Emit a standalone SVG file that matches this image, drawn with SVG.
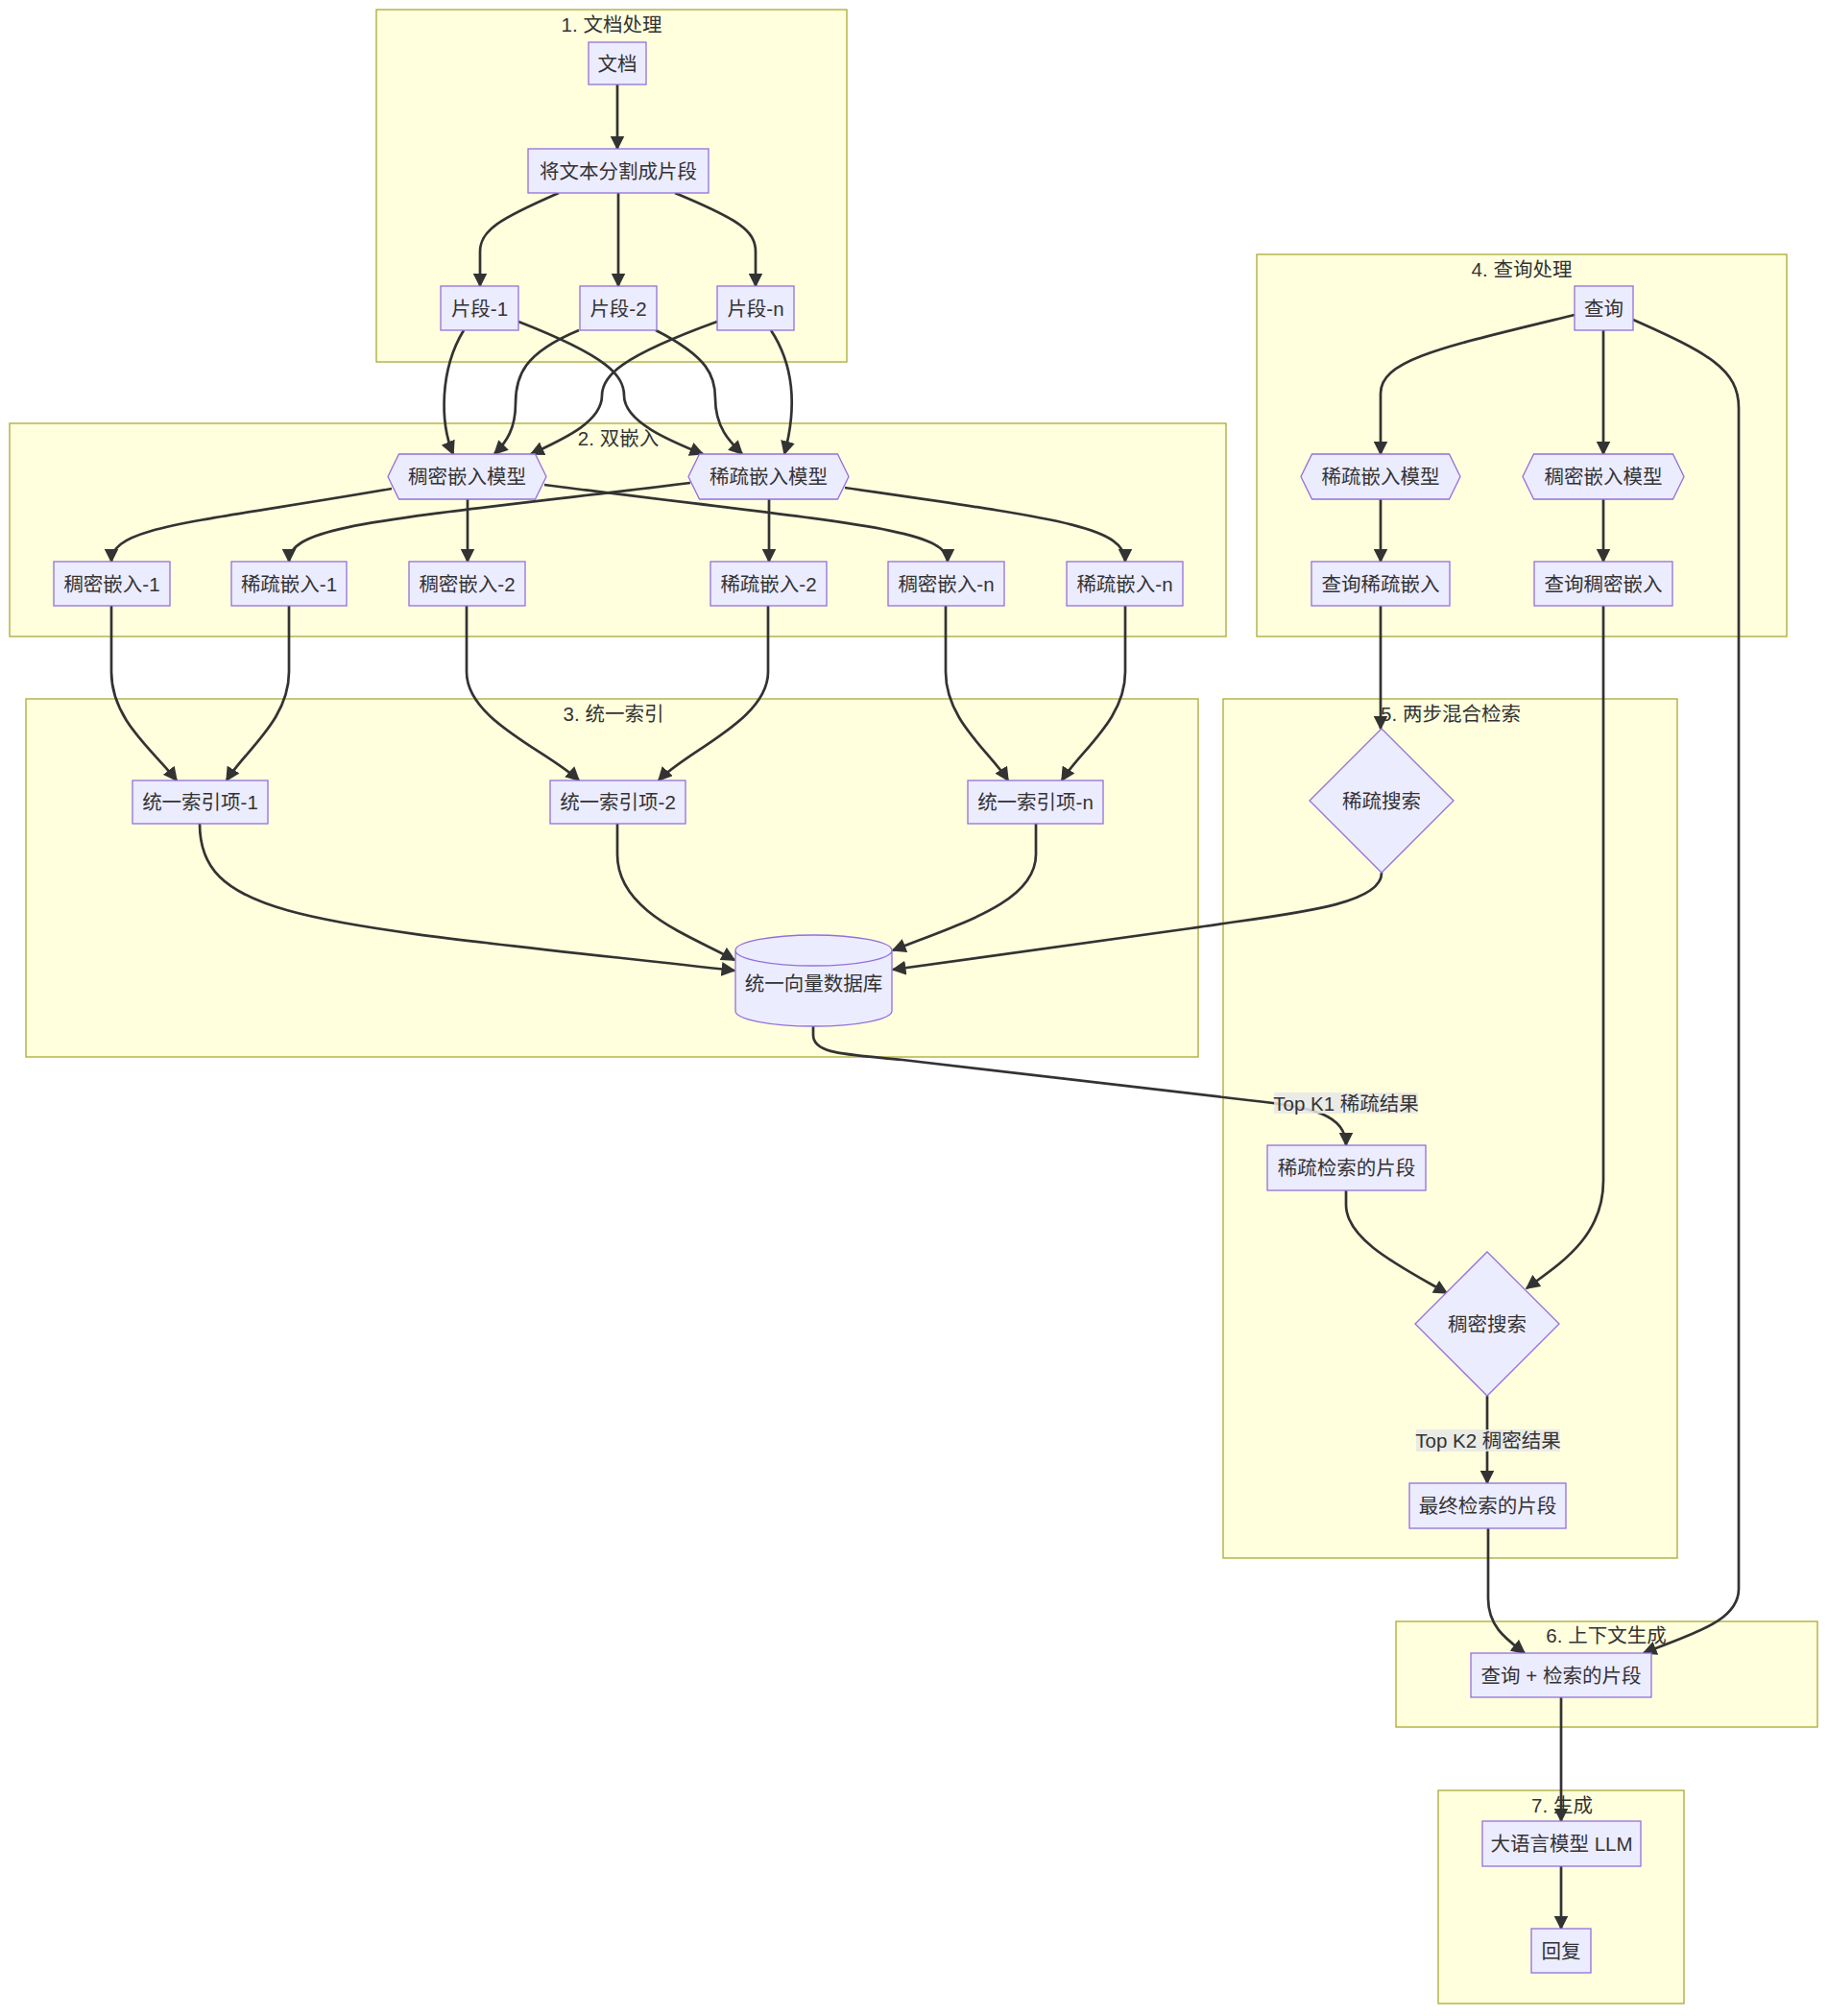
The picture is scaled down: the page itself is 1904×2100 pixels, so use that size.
<svg xmlns="http://www.w3.org/2000/svg" width="1904" height="2100" viewBox="0 0 1904 2100">
<style>
.cl{fill:#ffffde;stroke:#aaaa33;stroke-width:1.3}
.nd{fill:#ececff;stroke:#9370db;stroke-width:1.3}
.t{font-family:"Liberation Sans","Noto Sans CJK SC",sans-serif;font-size:20.5px;fill:#333;text-anchor:middle;dominant-baseline:central}
.e{fill:none;stroke:#333;stroke-width:2.7;marker-end:url(#arr)}
.lb{fill:#e8e8e8;fill-opacity:0.85}
</style>
<defs>
<marker id="arr" viewBox="0 0 10 10" refX="9" refY="5" markerUnits="userSpaceOnUse" markerWidth="15" markerHeight="15" orient="auto">
<path d="M0,0 L10,5 L0,10 z" fill="#333"/>
</marker>
</defs>
<rect width="1904" height="2100" fill="#ffffff"/>
<g id="clusters">
<g id="c1"><rect class="cl" x="392" y="10" width="490" height="367"/><text class="t" x="637" y="25">1. 文档处理</text></g>
<g id="c2"><rect class="cl" x="10" y="441" width="1267" height="222"/><text class="t" x="644" y="456">2. 双嵌入</text></g>
<g id="c3"><rect class="cl" x="27" y="728" width="1221" height="373"/><text class="t" x="639" y="743">3. 统一索引</text></g>
<g id="c4"><rect class="cl" x="1309" y="265" width="552" height="398"/><text class="t" x="1585" y="280">4. 查询处理</text></g>
<g id="c5"><rect class="cl" x="1274" y="728" width="473" height="895"/><text class="t" x="1511" y="743">5. 两步混合检索</text></g>
<g id="c6"><rect class="cl" x="1454" y="1689" width="439" height="110"/><text class="t" x="1673" y="1703">6. 上下文生成</text></g>
<g id="c7"><rect class="cl" x="1498" y="1865" width="256" height="222"/><text class="t" x="1627" y="1880">7. 生成</text></g>
</g>
<g id="edges">
<path class="e" d="M643,88 L643,155"/>
<path class="e" d="M582,201 C520,228 500,240 500,262 L500,298"/>
<path class="e" d="M644,201 L644,298"/>
<path class="e" d="M703,201 C768,228 787,240 787,262 L787,298"/>
<path class="e" d="M483,344 C458,385 458,440 472,473"/>
<path class="e" d="M603,344 C545,368 537,392 537,420 C537,446 528,460 515,473"/>
<path class="e" d="M747,335 C645,372 627,392 627,412 C627,440 585,458 553,473"/>
<path class="e" d="M540,335 C635,372 650,392 650,412 C650,440 700,460 732,473"/>
<path class="e" d="M683,344 C738,372 745,392 745,415 C745,445 760,460 773,473"/>
<path class="e" d="M803,344 C828,382 830,425 817,473"/>
<path class="e" d="M408,509 C200,545 116,548 116,585"/>
<path class="e" d="M719,503 C400,542 301,546 301,585"/>
<path class="e" d="M487,520 L487,585"/>
<path class="e" d="M567,505 C880,545 987,550 987,585"/>
<path class="e" d="M801,520 L801,585"/>
<path class="e" d="M880,508 C1100,540 1172,548 1172,585"/>
<path class="e" d="M116,631 L116,700 C116,750 160,782 184,813"/>
<path class="e" d="M301,631 L301,700 C301,750 255,782 236,813"/>
<path class="e" d="M486,631 L486,700 C486,750 570,782 603,813"/>
<path class="e" d="M800,631 L800,700 C800,750 715,782 686,813"/>
<path class="e" d="M985,631 L985,700 C985,750 1030,782 1050,813"/>
<path class="e" d="M1172,631 L1172,700 C1172,750 1125,782 1106,813"/>
<path class="e" d="M208,858 C208,960 330,962 765,1011"/>
<path class="e" d="M643,858 L643,890 C643,950 720,975 765,1000"/>
<path class="e" d="M1079,858 L1079,890 C1079,940 1000,962 930,990"/>
<path class="e" d="M1439,909 C1440,945 1330,953 1240,967 L930,1010"/>
<path class="e" d="M1640,328 C1500,362 1438,375 1438,410 L1438,473"/>
<path class="e" d="M1670,344 L1670,473"/>
<path class="e" d="M1701,333 C1780,368 1811,385 1811,425 L1811,1655 C1811,1690 1760,1702 1712,1722"/>
<path class="e" d="M1438,520 L1438,585"/>
<path class="e" d="M1670,520 L1670,585"/>
<path class="e" d="M1438,631 L1438,759"/>
<path class="e" d="M1670,631 L1670,1230 C1670,1290 1622,1318 1590,1342"/>
<path class="e" d="M847,1069 L847,1078 C847,1098 880,1098 940,1104 L1300,1146 C1370,1153 1402,1162 1402,1193"/>
<path class="e" d="M1402,1240 L1402,1255 C1402,1292 1460,1320 1507,1347"/>
<path class="e" d="M1549,1454 L1549,1545"/>
<path class="e" d="M1550,1592 L1550,1665 C1550,1695 1570,1708 1588,1722"/>
<path class="e" d="M1626,1768 L1626,1897"/>
<path class="e" d="M1626,1944 L1626,2009"/>
</g>
<g id="edge-labels">
<g id="l1"><rect class="lb" x="1327" y="1138" width="150" height="22"/><text class="t" x="1402" y="1149">Top K1 稀疏结果</text></g>
<g id="l2"><rect class="lb" x="1475" y="1489" width="150" height="23"/><text class="t" x="1550" y="1500">Top K2 稠密结果</text></g>
</g>
<g id="n-doc"><rect class="nd" x="613" y="44" width="60" height="44"/><text class="t" x="643" y="66">文档</text></g>
<g id="n-split"><rect class="nd" x="550" y="155" width="188" height="46"/><text class="t" x="644" y="178">将文本分割成片段</text></g>
<g id="n-chunk1"><rect class="nd" x="459" y="298" width="81" height="46"/><text class="t" x="499.5" y="321">片段-1</text></g>
<g id="n-chunk2"><rect class="nd" x="604" y="298" width="80" height="46"/><text class="t" x="644" y="321">片段-2</text></g>
<g id="n-chunkn"><rect class="nd" x="747" y="298" width="80" height="46"/><text class="t" x="787" y="321">片段-n</text></g>
<g id="n-denseModel"><polygon class="nd" points="415.5,473 557.5,473 569,496.5 557.5,520 415.5,520 404,496.5"/><text class="t" x="486.5" y="496.5">稠密嵌入模型</text></g>
<g id="n-sparseModel"><polygon class="nd" points="728.5,473 872.5,473 884,496.5 872.5,520 728.5,520 717,496.5"/><text class="t" x="800.5" y="496.5">稀疏嵌入模型</text></g>
<g id="n-dense1"><rect class="nd" x="56" y="585" width="121" height="46"/><text class="t" x="116.5" y="608">稠密嵌入-1</text></g>
<g id="n-sparse1"><rect class="nd" x="241" y="585" width="120" height="46"/><text class="t" x="301" y="608">稀疏嵌入-1</text></g>
<g id="n-dense2"><rect class="nd" x="426" y="585" width="121" height="46"/><text class="t" x="486.5" y="608">稠密嵌入-2</text></g>
<g id="n-sparse2"><rect class="nd" x="740" y="585" width="121" height="46"/><text class="t" x="800.5" y="608">稀疏嵌入-2</text></g>
<g id="n-densen"><rect class="nd" x="925" y="585" width="121" height="46"/><text class="t" x="985.5" y="608">稠密嵌入-n</text></g>
<g id="n-sparsen"><rect class="nd" x="1111" y="585" width="121" height="46"/><text class="t" x="1171.5" y="608">稀疏嵌入-n</text></g>
<g id="n-idx1"><rect class="nd" x="138" y="813" width="141" height="45"/><text class="t" x="208.5" y="835.5">统一索引项-1</text></g>
<g id="n-idx2"><rect class="nd" x="573" y="813" width="141" height="45"/><text class="t" x="643.5" y="835.5">统一索引项-2</text></g>
<g id="n-idxn"><rect class="nd" x="1008" y="813" width="141" height="45"/><text class="t" x="1078.5" y="835.5">统一索引项-n</text></g>
<g id="n-db"><path class="nd" d="M766,990 a81.5,16 0 0,0 163,0 a81.5,16 0 0,0 -163,0 l0,63 a81.5,16 0 0,0 163,0 l0,-63"/><text class="t" x="847.5" y="1024">统一向量数据库</text></g>
<g id="n-query"><rect class="nd" x="1640" y="298" width="61" height="46"/><text class="t" x="1670.5" y="321">查询</text></g>
<g id="n-qSparseModel"><polygon class="nd" points="1366.5,473 1509.5,473 1521,496.5 1509.5,520 1366.5,520 1355,496.5"/><text class="t" x="1438" y="496.5">稀疏嵌入模型</text></g>
<g id="n-qDenseModel"><polygon class="nd" points="1597.5,473 1742.5,473 1754,496.5 1742.5,520 1597.5,520 1586,496.5"/><text class="t" x="1670" y="496.5">稠密嵌入模型</text></g>
<g id="n-qSparseEmb"><rect class="nd" x="1366" y="585" width="144" height="46"/><text class="t" x="1438" y="608">查询稀疏嵌入</text></g>
<g id="n-qDenseEmb"><rect class="nd" x="1598" y="585" width="144" height="46"/><text class="t" x="1670" y="608">查询稠密嵌入</text></g>
<g id="n-sparseSearch"><polygon class="nd" points="1439,759 1514,834 1439,909 1364,834"/><text class="t" x="1439" y="834">稀疏搜索</text></g>
<g id="n-sparseChunks"><rect class="nd" x="1320" y="1193" width="165" height="47"/><text class="t" x="1402.5" y="1216.5">稀疏检索的片段</text></g>
<g id="n-denseSearch"><polygon class="nd" points="1549,1304 1624,1379 1549,1454 1474,1379"/><text class="t" x="1549" y="1379">稠密搜索</text></g>
<g id="n-finalChunks"><rect class="nd" x="1468" y="1545" width="163" height="47"/><text class="t" x="1549.5" y="1568.5">最终检索的片段</text></g>
<g id="n-context"><rect class="nd" x="1532" y="1722" width="188" height="46"/><text class="t" x="1626" y="1745">查询 + 检索的片段</text></g>
<g id="n-llm"><rect class="nd" x="1544" y="1897" width="165" height="47"/><text class="t" x="1626.5" y="1920.5">大语言模型 LLM</text></g>
<g id="n-reply"><rect class="nd" x="1595" y="2009" width="62" height="46"/><text class="t" x="1626" y="2032">回复</text></g>
</svg>
